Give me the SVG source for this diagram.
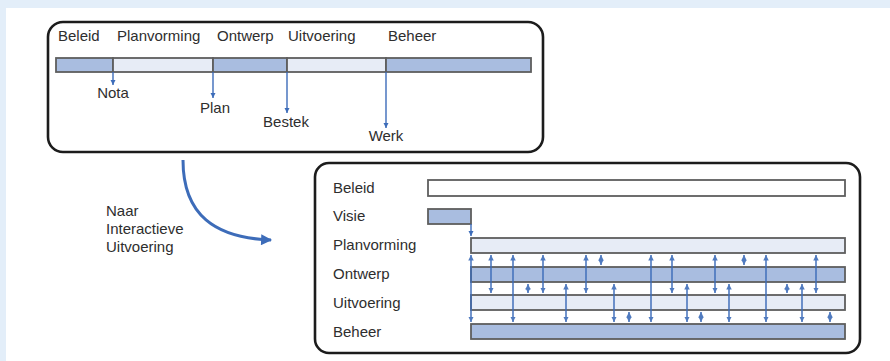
<svg xmlns="http://www.w3.org/2000/svg" width="890" height="361" viewBox="0 0 890 361">
<defs>
<style>
.lbl{font-family:"Liberation Sans",Arial,sans-serif;font-size:15px;fill:#2e2e2e}
.box{fill:#fff;stroke:#1c1c1c;stroke-width:2.6}
.bar{stroke:#5e5e5e;stroke-width:1.8}
.dk{fill:#a9bde0}
.lt{fill:#e7ecf6}
.wh{fill:#fff}
.ar{stroke:#3d6cb9;stroke-width:1.4;fill:none;marker-end:url(#ah)}
.dar{stroke:#3d6cb9;stroke-width:1.6;fill:none;opacity:0.9;marker-start:url(#ah);marker-end:url(#ah)}
</style>
<marker id="ah" viewBox="0 0 10 10" refX="10" refY="5" markerUnits="userSpaceOnUse" markerWidth="5.5" markerHeight="7" orient="auto-start-reverse">
<path d="M0,0 L10,5 L0,10 z" fill="#3d6cb9"/>
</marker>
<marker id="big" viewBox="0 0 10 10" refX="9" refY="5" markerUnits="userSpaceOnUse" markerWidth="12" markerHeight="11" orient="auto">
<path d="M0,0 L10,5 L0,10 z" fill="#3d6cb9"/>
</marker>
</defs>
<rect x="0" y="0" width="890" height="361" fill="#e3eef9"/>
<rect x="6" y="8" width="884" height="353" fill="#fff"/>

<g id="traditional">
<rect class="box" x="48" y="22" width="495" height="130" rx="15"/>
<text class="lbl" x="58" y="41">Beleid</text>
<text class="lbl" x="117" y="41">Planvorming</text>
<text class="lbl" x="217" y="41">Ontwerp</text>
<text class="lbl" x="288" y="41">Uitvoering</text>
<text class="lbl" x="388" y="41">Beheer</text>
<rect class="bar dk" x="56" y="58" width="57" height="14"/>
<rect class="bar lt" x="113" y="58" width="100" height="14"/>
<rect class="bar dk" x="213" y="58" width="74" height="14"/>
<rect class="bar lt" x="287" y="58" width="99" height="14"/>
<rect class="bar dk" x="386" y="58" width="145" height="14"/>
<text class="lbl" x="113" y="98" text-anchor="middle">Nota</text>
<text class="lbl" x="215" y="113" text-anchor="middle">Plan</text>
<text class="lbl" x="286" y="127" text-anchor="middle">Bestek</text>
<text class="lbl" x="386" y="141" text-anchor="middle">Werk</text>
</g>

<g id="transition">
<path d="M183,160 C183,215 215,238 271,240" stroke="#3d6cb9" stroke-width="3" fill="none" marker-end="url(#big)"/>
<text class="lbl" x="106" y="216">Naar</text>
<text class="lbl" x="106" y="234">Interactieve</text>
<text class="lbl" x="106" y="252">Uitvoering</text>
</g>

<g id="interactive">
<rect class="box" x="315" y="163" width="545" height="190" rx="14"/>
<text class="lbl" x="333" y="193">Beleid</text>
<text class="lbl" x="333" y="221">Visie</text>
<text class="lbl" x="333" y="250">Planvorming</text>
<text class="lbl" x="333" y="279">Ontwerp</text>
<text class="lbl" x="333" y="308">Uitvoering</text>
<text class="lbl" x="333" y="337">Beheer</text>
<rect class="bar wh" x="428" y="180" width="417" height="16"/>
<rect class="bar dk" x="428" y="209" width="43" height="15"/>
<rect class="bar lt" x="471" y="238" width="374" height="15"/>
<rect class="bar dk" x="471" y="267" width="374" height="15"/>
<rect class="bar lt" x="471" y="295" width="374" height="15"/>
<rect class="bar dk" x="471" y="324" width="374" height="15"/>
</g>

<g id="connectors">
<line class="ar" x1="113" y1="72" x2="113" y2="85"/>
<line class="ar" x1="213" y1="72" x2="213" y2="98"/>
<line class="ar" x1="287" y1="72" x2="287" y2="113"/>
<line class="ar" x1="386" y1="72" x2="386" y2="128"/>
<line class="ar" x1="471" y1="224" x2="471" y2="236"/>
<line class="dar" x1="471" y1="255" x2="471" y2="322"/>
<line class="dar" x1="491" y1="255" x2="491" y2="293"/>
<line class="dar" x1="513" y1="255" x2="513" y2="322"/>
<line class="dar" x1="528" y1="284" x2="528" y2="293"/>
<line class="dar" x1="543" y1="255" x2="543" y2="293"/>
<line class="dar" x1="566" y1="284" x2="566" y2="322"/>
<line class="dar" x1="586" y1="255" x2="586" y2="293"/>
<line class="dar" x1="601" y1="255" x2="601" y2="265"/>
<line class="dar" x1="614" y1="284" x2="614" y2="322"/>
<line class="dar" x1="629" y1="312" x2="629" y2="322"/>
<line class="dar" x1="651" y1="255" x2="651" y2="322"/>
<line class="dar" x1="672" y1="255" x2="672" y2="293"/>
<line class="dar" x1="687" y1="284" x2="687" y2="322"/>
<line class="dar" x1="701" y1="312" x2="701" y2="322"/>
<line class="dar" x1="715" y1="255" x2="715" y2="293"/>
<line class="dar" x1="729" y1="284" x2="729" y2="322"/>
<line class="dar" x1="744" y1="255" x2="744" y2="265"/>
<line class="dar" x1="766" y1="255" x2="766" y2="322"/>
<line class="dar" x1="787" y1="284" x2="787" y2="293"/>
<line class="dar" x1="802" y1="284" x2="802" y2="322"/>
<line class="dar" x1="816" y1="255" x2="816" y2="293"/>
<line class="dar" x1="830" y1="312" x2="830" y2="322"/>
</g>
</svg>
